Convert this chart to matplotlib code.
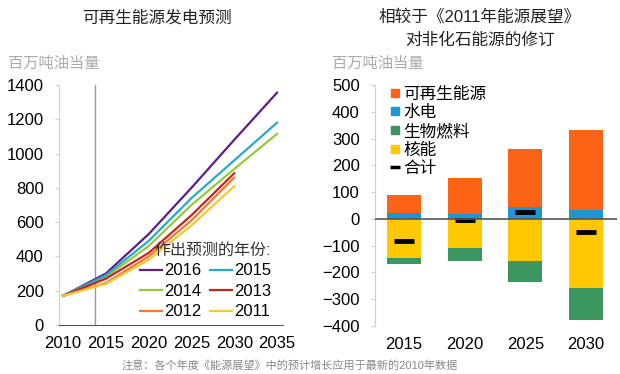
import matplotlib
matplotlib.use('Agg')
import matplotlib.pyplot as plt
from matplotlib.lines import Line2D
import numpy as np

plt.rcParams['font.family'] = ['Liberation Sans', 'Noto Sans CJK SC', 'DejaVu Sans']

# left panel: renewable power forecast by outlook year
years = [2010, 2015, 2020, 2025, 2030, 2035]
outlook_2016 = [170, 300, 530, 800, 1080, 1355]
outlook_2015 = [170, 290, 490, 740, 960, 1180]
outlook_2014 = [170, 280, 460, 700, 910, 1115]
outlook_2013 = [170, 270, 420, 640, 885]
outlook_2012 = [170, 245, 400, 610, 860]
outlook_2011 = [170, 240, 380, 580, 810]
left_xticks = [2010, 2015, 2020, 2025, 2030, 2035]
left_yticks = [0, 200, 400, 600, 800, 1000, 1200, 1400]
marker_year = 2013.7

# right panel: revisions vs 2011 outlook
bar_labels = ['2015', '2020', '2025', '2030']
hydro = [22, 19, 43, 35]
renewable = [69, 134, 218, 297]
nuclear = [-147, -110, -158, -257]
biofuel = [-23, -48, -78, -122]
total = [-83, -6, 26, -48]
right_yticks = [-400, -300, -200, -100, 0, 100, 200, 300, 400, 500]

c_ren, c_hyd, c_bio, c_nuc = '#FA6414', '#1E96D2', '#3C9660', '#FFC800'

fig = plt.figure(figsize=(6.2, 3.74), dpi=100)
ax1 = fig.add_axes([59/620, 1-325/374, (283-59)/620, 240/374])
ax2 = fig.add_axes([375/620, 1-326/374, (617-375)/620, 241/374])

series = [
    ('2016', outlook_2016, '#5B1E8C'),
    ('2014', outlook_2014, '#96C83C'),
    ('2012', outlook_2012, '#F07830'),
    ('2015', outlook_2015, '#27A9C8'),
    ('2013', outlook_2013, '#C0281E'),
    ('2011', outlook_2011, '#F8C830'),
]
ax1.axvline(marker_year, color='#999999', lw=1)
for lab, vals, col in series:
    ax1.plot(years[:len(vals)], vals, color=col, lw=1.6, label=lab)
ax1.set_xlim(2009.53, 2035.7)
ax1.set_ylim(0, 1400)
ax1.set_xticks(left_xticks)
ax1.set_yticks(left_yticks)
for s in ['top', 'right']:
    ax1.spines[s].set_visible(False)
ax1.spines['left'].set_color('#d0d0d0')
ax1.spines['bottom'].set_color('#555555')
ax1.tick_params(axis='y', length=3, color='#d0d0d0', labelsize=12, pad=8)
ax1.tick_params(axis='x', length=0, labelsize=12, pad=8)
leg = ax1.legend(ncol=2, loc='lower right', bbox_to_anchor=(1.0, -0.025), frameon=False,
                 title='作出预测的年份:', fontsize=12, title_fontsize=11.5,
                 handlelength=1.3, handletextpad=0.15, columnspacing=0.5,
                 labelspacing=0.33, borderpad=0.2)
leg.get_title().set_color('#333333')
leg._legend_box.align = 'right'

x = np.arange(len(bar_labels))
w = 0.56
ax2.bar(x, hydro, w, color=c_hyd)
ax2.bar(x, renewable, w, bottom=hydro, color=c_ren)
ax2.bar(x, nuclear, w, color=c_nuc)
ax2.bar(x, biofuel, w, bottom=nuclear, color=c_bio)
ax2.scatter(x, total, marker='_', s=225, linewidths=3.5, color='black', zorder=5)
ax2.axhline(0, color='#555555', lw=1.2, zorder=6)
ax2.set_xlim(-0.48, 3.51)
ax2.set_ylim(-400, 500)
ax2.set_xticks(x)
ax2.set_xticklabels(bar_labels)
ax2.set_yticks(right_yticks)
for s in ['top', 'right', 'bottom']:
    ax2.spines[s].set_visible(False)
ax2.spines['left'].set_color('#d0d0d0')
ax2.tick_params(axis='y', length=3, color='#d0d0d0', labelsize=12, pad=8)
ax2.tick_params(axis='x', length=0, labelsize=12, pad=8)

handles = [Line2D([], [], ls='none', marker='s', ms=6, color=c) for c in (c_ren, c_hyd, c_bio, c_nuc)]
handles.append(Line2D([], [], ls='none', marker='_', ms=7, mew=2.5, color='black'))
ax2.legend(handles, ['可再生能源', '水电', '生物燃料', '核能', '合计'], loc='upper left',
           bbox_to_anchor=(0.02, 1.035), frameon=False, fontsize=12,
           handlelength=0.6, handletextpad=0.2, labelspacing=0.2, borderpad=0.1)

fig.text(157/620, 1-18/374, '可再生能源发电预测', ha='center', va='center', fontsize=12, color='#222222')
fig.text(480/620, 1-17/374, '相较于《2011年能源展望》', ha='center', va='center', fontsize=12, color='#222222')
fig.text(480/620, 1-40/374, '对非化石能源的修订', ha='center', va='center', fontsize=12, color='#222222')
fig.text(8/620, 1-64/374, '百万吨油当量', ha='left', va='center', fontsize=11, color='#aaaaaa')
fig.text(332/620, 1-64/374, '百万吨油当量', ha='left', va='center', fontsize=11, color='#aaaaaa')
fig.text(122/620, 1-365/374, '注意：各个年度《能源展望》中的预计增长应用于最新的2010年数据',
         ha='left', va='center', fontsize=8, color='#888888')

fig.savefig('out.png', dpi=100)
